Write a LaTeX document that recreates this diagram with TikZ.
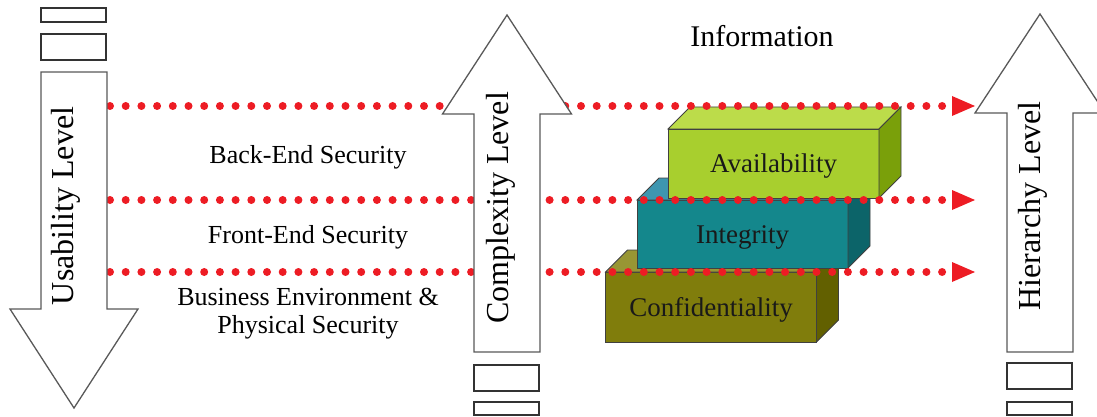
\documentclass[tikz,border=0pt]{standalone}
\usepackage{fontspec}
\setmainfont{Liberation Serif}
\usetikzlibrary{arrows.meta}
\definecolor{dotred}{RGB}{237,28,36}
\definecolor{availfront}{RGB}{168,207,46}
\definecolor{availtop}{RGB}{188,220,74}
\definecolor{availside}{RGB}{122,160,10}
\definecolor{integfront}{RGB}{20,135,140}
\definecolor{integtop}{RGB}{62,150,176}
\definecolor{integside}{RGB}{12,100,105}
\definecolor{confront}{RGB}{128,125,12}
\definecolor{conftop}{RGB}{152,150,52}
\definecolor{confside}{RGB}{98,96,0}
\tikzset{
  blockarrow/.style={draw=black!65,line width=1.3pt,fill=white,line join=miter},
  tickbox/.style={draw=black!80,line width=1.3pt,fill=white},
  facet/.style={draw=black!75,line width=0.8pt},
  face/.style={facet,inner sep=0pt,outer sep=0pt,minimum width=211pt,text height=18pt,text depth=0pt,font=\fontsize{27}{32}\selectfont,text=black!90},
  dotline/.style={draw=dotred,line width=8pt,line cap=round,dash pattern=on 0pt off 15.7pt,-{Triangle[length=23pt,width=20pt,line width=0pt]}},
  level/.style={rotate=90,anchor=base,font=\fontsize{32}{38}\selectfont},
  layer/.style={align=center,font=\fontsize{26}{28}\selectfont}
}
\begin{document}
\begin{tikzpicture}[x=1pt,y=-1pt]
\useasboundingbox (0,0) rectangle (1097,417);
\clip (0,0) rectangle (1097,417);
\node [face,fill=confront,minimum height=70pt] (conf) at (711,307) {Confidentiality};
\draw [facet,fill=conftop] (conf.north west) -- ++(22,-22) -- ([shift={(22,-22)}]conf.north east) -- (conf.north east) -- cycle;
\draw [facet,fill=confside] (conf.north east) -- ++(22,-22) -- ([shift={(22,-22)}]conf.south east) -- (conf.south east) -- cycle;
\node [face,fill=integfront,minimum height=68pt] (integ) at (742.5,234) {Integrity};
\draw [facet,fill=integtop] (integ.north west) -- ++(22,-22) -- ([shift={(22,-22)}]integ.north east) -- (integ.north east) -- cycle;
\draw [facet,fill=integside] (integ.north east) -- ++(22,-22) -- ([shift={(22,-22)}]integ.south east) -- (integ.south east) -- cycle;
\node [face,fill=availfront,minimum height=69pt] (avail) at (773.5,163.5) {Availability};
\draw [facet,fill=availtop] (avail.north west) -- ++(22,-22) -- ([shift={(22,-22)}]avail.north east) -- (avail.north east) -- cycle;
\draw [facet,fill=availside] (avail.north east) -- ++(22,-22) -- ([shift={(22,-22)}]avail.south east) -- (avail.south east) -- cycle;
\coordinate (backend-w) at (110,106);
\coordinate (backend-e) at (975,106);
\coordinate (frontend-w) at (110,200);
\coordinate (frontend-e) at (975,200);
\coordinate (business-w) at (110,272);
\coordinate (business-e) at (975,272);
\draw [dotline] (backend-w) -- (backend-e);
\draw [dotline] (frontend-w) -- (frontend-e);
\draw [dotline] (business-w) -- (business-e);
\draw [blockarrow] (41,72) -- (107,72) -- (107,309) -- (138,309) -- (74,408) -- (10,309) -- (41,309) -- cycle;
\draw [blockarrow] (474,352) -- (474,114) -- (442.5,114) -- (507,15) -- (571.5,114) -- (540,114) -- (540,352) -- cycle;
\draw [blockarrow] (1007,352) -- (1007,113) -- (975,113) -- (1040,14) -- (1105,113) -- (1073,113) -- (1073,352) -- cycle;
\draw [tickbox] (41,8) rectangle (106,22);
\draw [tickbox] (41,34) rectangle (106,60);
\draw [tickbox] (474,365) rectangle (539,391);
\draw [tickbox] (474,402) rectangle (539,415);
\draw [tickbox] (1007,363) rectangle (1072,389);
\draw [tickbox] (1007,402) rectangle (1072,415);
\node [level] (usability) at (73,206) {Usability Level};
\node [level] (complexity) at (508,208) {Complexity Level};
\node [level] (hierarchy) at (1040,206) {Hierarchy Level};
\node [anchor=base,font=\fontsize{30}{36}\selectfont] (information) at (762,47) {Information};
\node [layer,anchor=base] (backend) at (308,164) {Back-End Security};
\node [layer,anchor=base] (frontend) at (308,243) {Front-End Security};
\node [layer] (business) at (308,314) {Business Environment \&\\Physical Security};
\end{tikzpicture}
\end{document}
